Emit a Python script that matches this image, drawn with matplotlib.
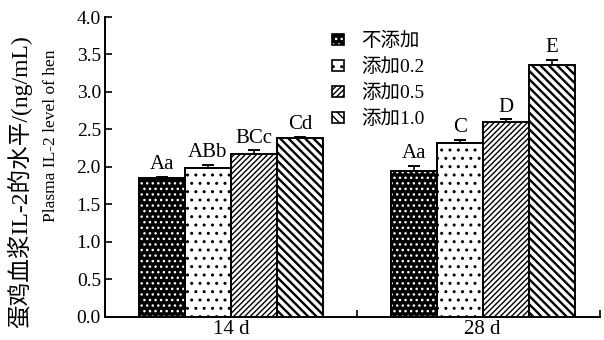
import numpy as np
import matplotlib.pyplot as plt
from matplotlib.legend_handler import HandlerTuple
from matplotlib.patches import Patch

plt.rcParams['font.family'] = ['Liberation Serif', 'Noto Sans CJK SC']

groups = ['14 d', '28 d']
series = ['不添加', '添加0.2', '添加0.5', '添加1.0']
values = [
    [1.85, 1.94],
    [1.98, 2.32],
    [2.17, 2.60],
    [2.38, 3.36],
]
errors = [
    [0.02, 0.07],
    [0.05, 0.045],
    [0.05, 0.035],
    [0.02, 0.07],
]
letters = [
    ['Aa', 'Aa'],
    ['ABb', 'C'],
    ['BCc', 'D'],
    ['Cd', 'E'],
]

# fill colour, hatch, hatch colour, hatch line width
styles = [
    ('black', '...', 'white', 1.0),
    ('white', '..', 'black', 1.0),
    ('white', '//////', 'black', 1.0),
    ('white', '\\\\\\\\', 'black', 1.7),
]

fig = plt.figure(figsize=(6.04, 3.4), dpi=100)
ax = fig.add_axes([0.174, 0.068, 0.819, 0.882])

centers = np.array([0.5, 1.5])
width = 0.183
handles = []
for i, name in enumerate(series):
    x = centers + (i - 1.5) * width
    face, hatch, hcol, hlw = styles[i]
    with plt.rc_context({'hatch.linewidth': hlw}):
        ax.bar(x, values[i], width, color=face, hatch=hatch,
               edgecolor=hcol, linewidth=0, zorder=2)
        p1 = Patch(facecolor=face, hatch=hatch, edgecolor=hcol, linewidth=0)
    ax.bar(x, values[i], width, fill=False, edgecolor='black',
           linewidth=1.4, zorder=3)
    ax.errorbar(x, values[i], yerr=[np.zeros(2), errors[i]], fmt='none',
                ecolor='black', elinewidth=1.2, capsize=4.5, capthick=1.4,
                zorder=4)
    for xi, v, e, t in zip(x, values[i], errors[i], letters[i]):
        ax.annotate(t, (xi, v + e), xytext=(0, 2), textcoords='offset points',
                    ha='center', va='bottom', fontsize=15)
    p2 = Patch(fill=False, edgecolor='black', linewidth=1.2)
    handles.append((p1, p2))

ax.set_xlim(0, 1.965)
ax.set_ylim(0, 4.0)
ax.set_yticks(np.arange(0, 4.01, 0.5))
ax.set_yticklabels([f'{v:.1f}' for v in np.arange(0, 4.01, 0.5)])
ax.set_xticks(centers)
ax.set_xticklabels(groups)
ax.set_xticks([1.0, 1.965], minor=True)
ax.tick_params(axis='x', which='major', length=0, labelsize=15, pad=2)
ax.tick_params(axis='x', which='minor', direction='in', length=5, width=1.2)
ax.tick_params(axis='y', direction='in', length=5, width=1.2, labelsize=14, pad=3)
ax.spines['top'].set_visible(False)
ax.spines['right'].set_visible(False)
for s in ('left', 'bottom'):
    ax.spines[s].set_linewidth(1.4)

fig.text(0.033, 0.465, '蛋鸡血浆IL-2的水平/(ng/mL)', rotation=90,
         ha='center', va='center', fontsize=17)
fig.text(0.085, 0.60, 'Plasma IL-2 level of hen', rotation=90,
         ha='center', va='center', fontsize=12.5)

fig.legend(handles, series, handler_map={tuple: HandlerTuple(ndivide=1, pad=0)},
           loc='upper left', bbox_to_anchor=(0.55, 0.905), frameon=False,
           fontsize=14, handlelength=0.6, handleheight=0.45, handletextpad=0.9,
           labelspacing=0.4, borderaxespad=0, borderpad=0)

fig.savefig('out.png', dpi=100)
